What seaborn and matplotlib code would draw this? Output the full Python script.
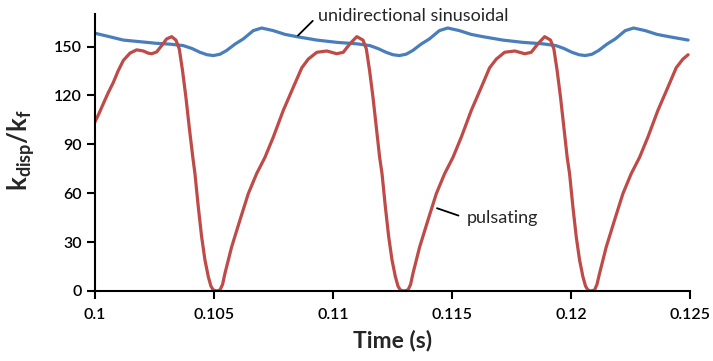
import matplotlib
matplotlib.use("Agg")
import matplotlib.pyplot as plt
import seaborn as sns
import pandas as pd

# Blue: unidirectional sinusoidal
t_sin = [0.10000, 0.10063, 0.10119, 0.10189, 0.10259, 0.10315, 0.10371, 0.10408,
         0.10441, 0.10471, 0.10497, 0.10525, 0.10553, 0.10588, 0.10623, 0.10665,
         0.10700, 0.10749, 0.10798, 0.10848, 0.10932, 0.11016, 0.11100, 0.11155,
         0.11189, 0.11223, 0.11252, 0.11279, 0.11307, 0.11335, 0.11370, 0.11405,
         0.11447, 0.11482, 0.11531, 0.11580, 0.11629, 0.11713, 0.11797, 0.11881,
         0.11937, 0.11971, 0.12004, 0.12034, 0.12060, 0.12088, 0.12116, 0.12151,
         0.12186, 0.12228, 0.12263, 0.12312, 0.12361, 0.12411, 0.12492]
k_sin = [158.2, 156.0, 154.0, 153.0, 152.0, 151.5, 150.6, 148.8,
         146.5, 145.0, 144.5, 145.3, 147.6, 151.5, 154.7, 159.8,
         161.4, 159.8, 157.5, 156.1, 154.0, 152.6, 151.7, 150.6,
         148.8, 146.5, 145.0, 144.5, 145.3, 147.6, 151.5, 154.7,
         159.8, 161.4, 159.8, 157.5, 156.1, 154.0, 152.6, 151.7,
         150.6, 148.8, 146.5, 145.0, 144.5, 145.3, 147.6, 151.5,
         154.7, 159.8, 161.4, 159.8, 157.5, 156.1, 154.0]

# Red: pulsating
t_pul = [0.10000, 0.10017, 0.10035, 0.10055, 0.10077, 0.10097, 0.10119, 0.10147,
         0.10175, 0.10203, 0.10223, 0.10238, 0.10259, 0.10280, 0.10301, 0.10322,
         0.10340, 0.10354, 0.10368, 0.10382, 0.10396, 0.10411, 0.10420, 0.10434,
         0.10448, 0.10462, 0.10476, 0.10487, 0.10497, 0.10511, 0.10525, 0.10536,
         0.10546, 0.10574, 0.10609, 0.10644, 0.10679, 0.10714, 0.10749, 0.10791,
         0.10833, 0.10869, 0.10896, 0.10932, 0.10974, 0.11016, 0.11043, 0.11071,
         0.11100,
         0.11126, 0.11140, 0.11154, 0.11168, 0.11182, 0.11196, 0.11206, 0.11220,
         0.11234, 0.11248, 0.11262, 0.11273, 0.11283, 0.11296, 0.11315, 0.11326,
         0.11336, 0.11364, 0.11399, 0.11434, 0.11469, 0.11504, 0.11539, 0.11581,
         0.11623, 0.11658, 0.11686, 0.11721, 0.11764, 0.11806, 0.11833, 0.11861,
         0.11889,
         0.11914, 0.11928, 0.11942, 0.11956, 0.11970, 0.11984, 0.11994, 0.12008,
         0.12022, 0.12036, 0.12050, 0.12061, 0.12071, 0.12084, 0.12099, 0.12109,
         0.12120, 0.12148, 0.12183, 0.12218, 0.12253, 0.12288, 0.12323, 0.12365,
         0.12407, 0.12442, 0.12470, 0.12492]
k_pul = [103.8, 109.0, 115.0, 121.5, 128.0, 135.0, 141.5, 146.0,
         148.0, 147.3, 146.0, 145.6, 146.7, 150.6, 154.7, 156.1,
         154.0, 148.6, 135.0, 118.9, 100.5, 82.0, 72.0, 51.6,
         33.3, 19.0, 8.8, 3.0, 0.6, 0.0, 0.6, 4.0,
         10.8, 27.0, 43.5, 59.7, 72.0, 82.0, 94.4, 110.8,
         125.0, 137.0, 142.3, 146.5, 147.3, 145.6, 146.5, 151.7,
         156.1,
         154.0, 148.6, 135.0, 118.9, 100.5, 82.0, 72.0, 51.6,
         33.3, 19.0, 8.8, 3.0, 0.6, 0.0, 0.6, 4.0,
         10.8, 27.0, 43.5, 59.7, 72.0, 82.0, 94.4, 110.8,
         125.0, 137.0, 142.3, 146.5, 147.3, 145.6, 146.5, 151.7,
         156.1,
         154.0, 148.6, 135.0, 118.9, 100.5, 82.0, 72.0, 51.6,
         33.3, 19.0, 8.8, 3.0, 0.6, 0.0, 0.6, 4.0,
         10.8, 27.0, 43.5, 59.7, 72.0, 82.0, 94.4, 110.8,
         125.0, 137.0, 142.3, 145.0]

x_ticks = [0.1, 0.105, 0.11, 0.115, 0.12, 0.125]
x_tick_labels = ["0.1", "0.105", "0.11", "0.115", "0.12", "0.125"]
y_ticks = [0, 30, 60, 90, 120, 150]

sns.set_style("ticks")
plt.rcParams["font.family"] = ["Lato", "DejaVu Sans"]
plt.rcParams["mathtext.fontset"] = "custom"
plt.rcParams["mathtext.rm"] = "Lato"
plt.rcParams["mathtext.it"] = "Lato:italic"
plt.rcParams["mathtext.bf"] = "Lato:bold"

fig = plt.figure(figsize=(7.13, 3.61), dpi=100)
ax = fig.add_axes([95 / 713, 1 - 291 / 361, (690 - 95) / 713, (291 - 14) / 361])

df_sin = pd.DataFrame({"t": t_sin, "k": k_sin})
df_pul = pd.DataFrame({"t": t_pul, "k": k_pul})
sns.lineplot(data=df_sin, x="t", y="k", ax=ax, color="#4a7ebb", linewidth=2.3, sort=False)
sns.lineplot(data=df_pul, x="t", y="k", ax=ax, color="#be4b48", linewidth=2.3, sort=False)
for ln in ax.get_lines():
    ln.set_solid_joinstyle("round")
    ln.set_solid_capstyle("round")

ax.set_xlim(0.1, 0.125)
ax.set_ylim(0, 170)
ax.set_xticks(x_ticks)
ax.set_xticklabels(x_tick_labels)
ax.set_yticks(y_ticks)
ax.tick_params(axis="both", labelsize=11.5, colors="black", width=1.5, length=6, direction="out")
ax.tick_params(axis="x", pad=6)
for lab in ax.get_xticklabels() + ax.get_yticklabels():
    lab.set_fontweight("semibold")
sns.despine(ax=ax)
for s in ["left", "bottom"]:
    ax.spines[s].set_linewidth(1.5)
    ax.spines[s].set_color("black")

ax.set_xlabel("Time (s)", fontsize=16.5, fontweight="bold", labelpad=6)
ax.set_ylabel(r"$\mathbf{k_{disp}/k_f}$", fontsize=18.5)
ax.yaxis.set_label_coords(-0.098, 0.51)

ax.annotate("unidirectional sinusoidal", xy=(0.10853, 156.8), xytext=(0.10937, 169),
            fontsize=13, va="center", ha="left",
            arrowprops=dict(arrowstyle="-", color="black", lw=1.3, shrinkA=2, shrinkB=0,
                            relpos=(0, 0.5)))
ax.annotate("pulsating", xy=(0.11437, 50.8), xytext=(0.11563, 44.5),
            fontsize=13, va="center", ha="left",
            arrowprops=dict(arrowstyle="-", color="black", lw=1.3, shrinkA=4, shrinkB=0,
                            relpos=(0, 0.5)))

fig.savefig("out.png", dpi=100)
